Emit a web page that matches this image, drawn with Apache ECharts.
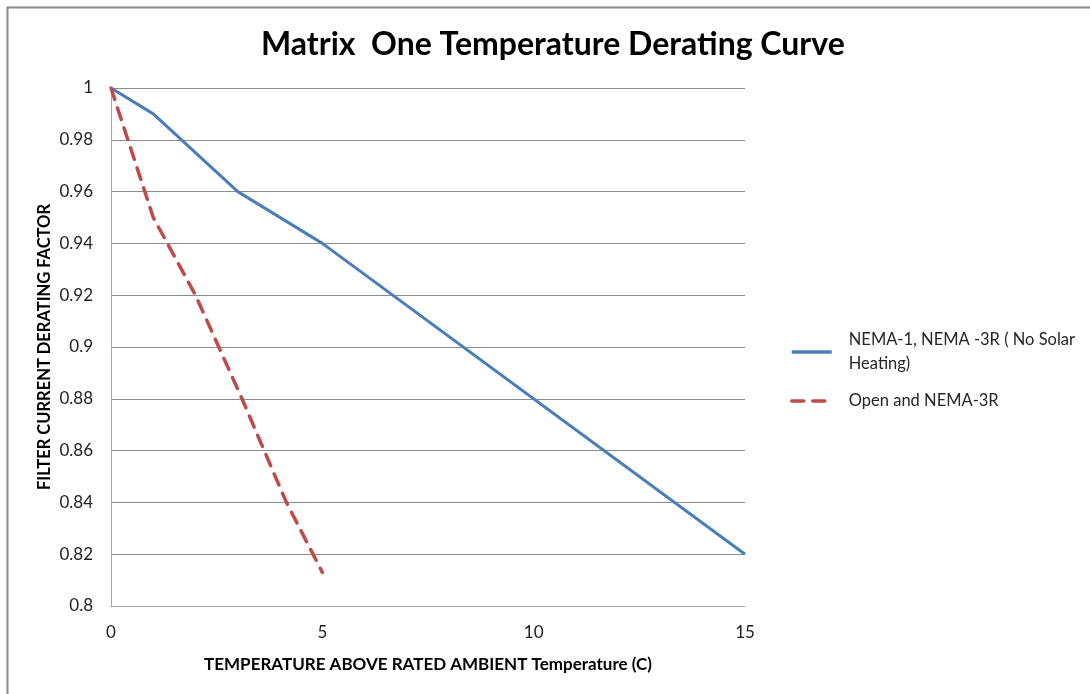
<!DOCTYPE html>
<html>
<head>
<meta charset="utf-8">
<script src="https://cdn.jsdelivr.net/npm/echarts@6/dist/echarts.min.js"></script>
<style>html,body{margin:0;padding:0;background:#fff}#c{width:1090px;height:694px}</style>
</head>
<body>
<div id="c"></div>
<script>
const title = "Matrix  One Temperature Derating Curve";
const xAxisName = "TEMPERATURE ABOVE RATED AMBIENT Temperature (C)";
const yAxisName = "FILTER CURRENT DERATING FACTOR";
const seriesNames = ["NEMA-1, NEMA -3R ( No Solar Heating)", "Open and NEMA-3R"];
const nemaX = [0, 1, 3, 5, 15];
const nemaY = [1, 0.99, 0.96, 0.94, 0.82];
const openX = [0, 1, 2, 3.1, 4.15, 5];
const openY = [1, 0.95, 0.92, 0.88, 0.84, 0.813];

const chart = echarts.init(document.getElementById('c'), null, {renderer: 'canvas'});
const font = 'Lato, "Open Sans", sans-serif';
chart.setOption({
  animation: false,
  backgroundColor: '#fff',
  textStyle: {fontFamily: font},
  graphic: [{
    type: 'rect', left: 5, top: 5, silent: true,
    shape: {x: 0, y: 0, width: 1100, height: 700},
    style: {fill: 'none', stroke: '#8a8a8a', lineWidth: 2}
  }],
  title: {
    text: title, left: 256, top: 24,
    textStyle: {fontFamily: font, fontWeight: 'bold', fontSize: 32, color: '#000'}
  },
  legend: {
    orient: 'vertical', left: 785, top: 323, itemWidth: 40, itemHeight: 14, itemGap: 13,
    data: seriesNames,
    itemStyle: {opacity: 0},
    lineStyle: {width: 3.5},
    formatter: n => n.replace(' Heating', '\nHeating'),
    textStyle: {fontFamily: font, fontSize: 16.5, color: '#262626', lineHeight: 24, padding: [0, 0, 0, 12]}
  },
  grid: {left: 111, right: 345, top: 88, bottom: 88},
  xAxis: {
    type: 'value', min: 0, max: 15, interval: 5,
    name: xAxisName, nameLocation: 'middle', nameGap: 50,
    nameTextStyle: {fontFamily: font, fontWeight: 'bold', fontSize: 17, color: '#000'},
    axisLine: {show: true, lineStyle: {color: '#a6a6a6', width: 1}},
    axisTick: {show: false},
    splitLine: {show: false},
    axisLabel: {fontFamily: font, fontSize: 17, color: '#222', margin: 18}
  },
  yAxis: {
    type: 'value', min: 0.8, max: 1, interval: 0.02,
    name: yAxisName, nameLocation: 'middle', nameGap: 58, nameRotate: 90,
    nameMoveOverlap: false,
    nameTextStyle: {fontFamily: font, fontWeight: 'bold', fontSize: 16.5, color: '#000'},
    axisLine: {show: true, lineStyle: {color: '#a6a6a6', width: 1}},
    axisTick: {show: false},
    splitLine: {show: true, lineStyle: {color: '#8c8c8c', width: 1}},
    axisLabel: {fontFamily: font, fontSize: 17, color: '#222', margin: 18,
      formatter: v => String(parseFloat(v.toFixed(2)))}
  },
  series: [{
    name: seriesNames[0], type: 'line', symbol: 'none',
    data: nemaX.map((x, i) => [x, nemaY[i]]),
    lineStyle: {color: '#4a7ebb', width: 3}, itemStyle: {color: '#4a7ebb'}
  }, {
    name: seriesNames[1], type: 'line', symbol: 'none',
    data: openX.map((x, i) => [x, openY[i]]),
    lineStyle: {color: '#be4b48', width: 3.5, type: [12, 9], cap: 'round'}, itemStyle: {color: '#be4b48'}
  }]
});
</script>
</body>
</html>
